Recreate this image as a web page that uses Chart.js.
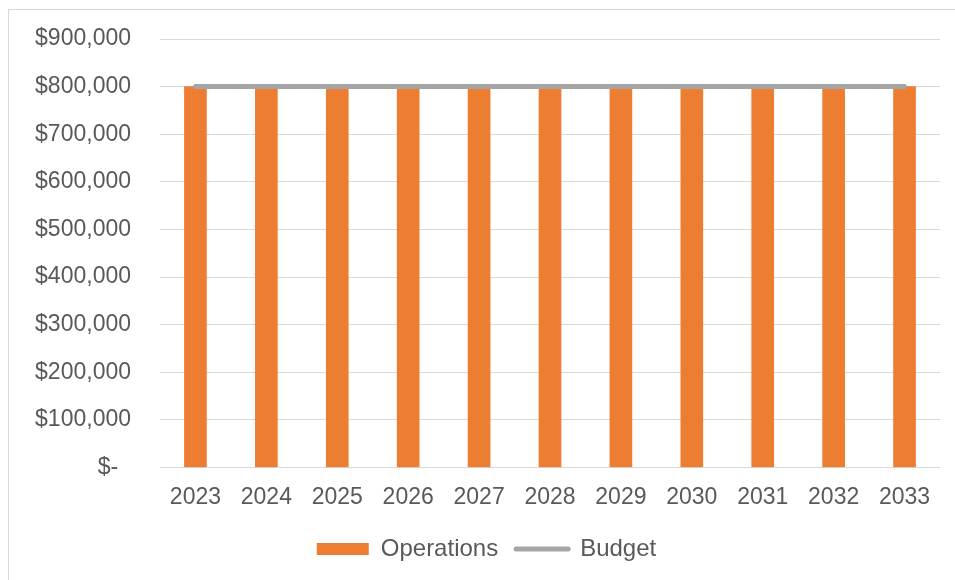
<!DOCTYPE html>
<html>
<head>
<meta charset="utf-8">
<script src="https://cdn.jsdelivr.net/npm/chart.js@4"></script>
<style>
  html, body { margin: 0; padding: 0; background: #fff; }
  #wrap { position: relative; width: 955px; height: 580px; overflow: hidden; }
  #frame { position: absolute; left: 8px; top: 9px; width: 1000px; height: 700px; border: 1px solid #d9d9d9; box-sizing: border-box; }
  #chart { position: absolute; left: 0; top: 0; }
</style>
</head>
<body>
<div id="wrap">
  <div id="frame"></div>
  <canvas id="chart" width="955" height="580"></canvas>
</div>
<script>
// 年份與數值
const years = ["2023", "2024", "2025", "2026", "2027", "2028", "2029", "2030", "2031", "2032", "2033"];
const operations = [800000, 800000, 800000, 800000, 800000, 800000, 800000, 800000, 800000, 800000, 800000];
const budget = [800000, 800000, 800000, 800000, 800000, 800000, 800000, 800000, 800000, 800000, 800000];
const yTicks = [0, 100000, 200000, 300000, 400000, 500000, 600000, 700000, 800000, 900000];

const textColor = "#595959";
const fontFamily = "'Liberation Sans', Arial, sans-serif";

const money = (v) => (v === 0 ? "$-  " : "$" + v.toLocaleString("en-US"));

new Chart(document.getElementById("chart"), {
  type: "bar",
  data: {
    labels: years,
    datasets: [
      {
        type: "bar",
        label: "Operations",
        data: operations,
        backgroundColor: "#ED7D31",
        barThickness: 22,
        order: 1,
      },
      {
        type: "line",
        label: "Budget",
        data: budget,
        borderColor: "#A5A5A5",
        backgroundColor: "#A5A5A5",
        borderWidth: 5,
        borderCapStyle: "round",
        pointRadius: 0,
        order: 0,
      },
    ],
  },
  options: {
    responsive: false,
    animation: false,
    layout: { padding: { left: 33, right: 15, top: 39, bottom: 9 } },
    plugins: {
      tooltip: { enabled: false },
      legend: {
        position: "bottom",
        labels: {
          color: textColor,
          font: { family: fontFamily, size: 24 },
          usePointStyle: true,
          pointStyleWidth: 52,
          boxHeight: 12,
          padding: 18,
          generateLabels: (chart) =>
            chart.data.datasets.map((ds, i) => ({
              text: ds.label,
              fillStyle: ds.type === "line" ? "rgba(0,0,0,0)" : ds.backgroundColor,
              strokeStyle: ds.type === "line" ? ds.borderColor : ds.backgroundColor,
              lineWidth: ds.type === "line" ? 5 : 0,
              lineCap: "round",
              pointStyle: ds.type === "line" ? "line" : "rect",
              fontColor: textColor,
              hidden: false,
              datasetIndex: i,
            })),
        },
      },
    },
    scales: {
      x: {
        grid: { display: false },
        border: { display: false },
        ticks: {
          color: textColor,
          font: { family: fontFamily, size: 23 },
          padding: 8,
          maxRotation: 0,
        },
      },
      y: {
        min: 0,
        max: 900000,
        afterBuildTicks: (scale) => {
          scale.ticks = yTicks.map((v) => ({ value: v }));
        },
        afterFit: (scale) => {
          scale.width = 127;
          // 不讓刻度文字撐開上下留白
          scale.paddingTop = 0;
          scale.paddingBottom = 0;
        },
        grid: { color: "#d9d9d9", lineWidth: 1, drawTicks: false },
        border: { display: false },
        ticks: {
          color: textColor,
          font: { family: fontFamily, size: 23 },
          padding: 29,
          callback: (v) => money(v),
        },
      },
    },
  },
});
</script>
</body>
</html>
